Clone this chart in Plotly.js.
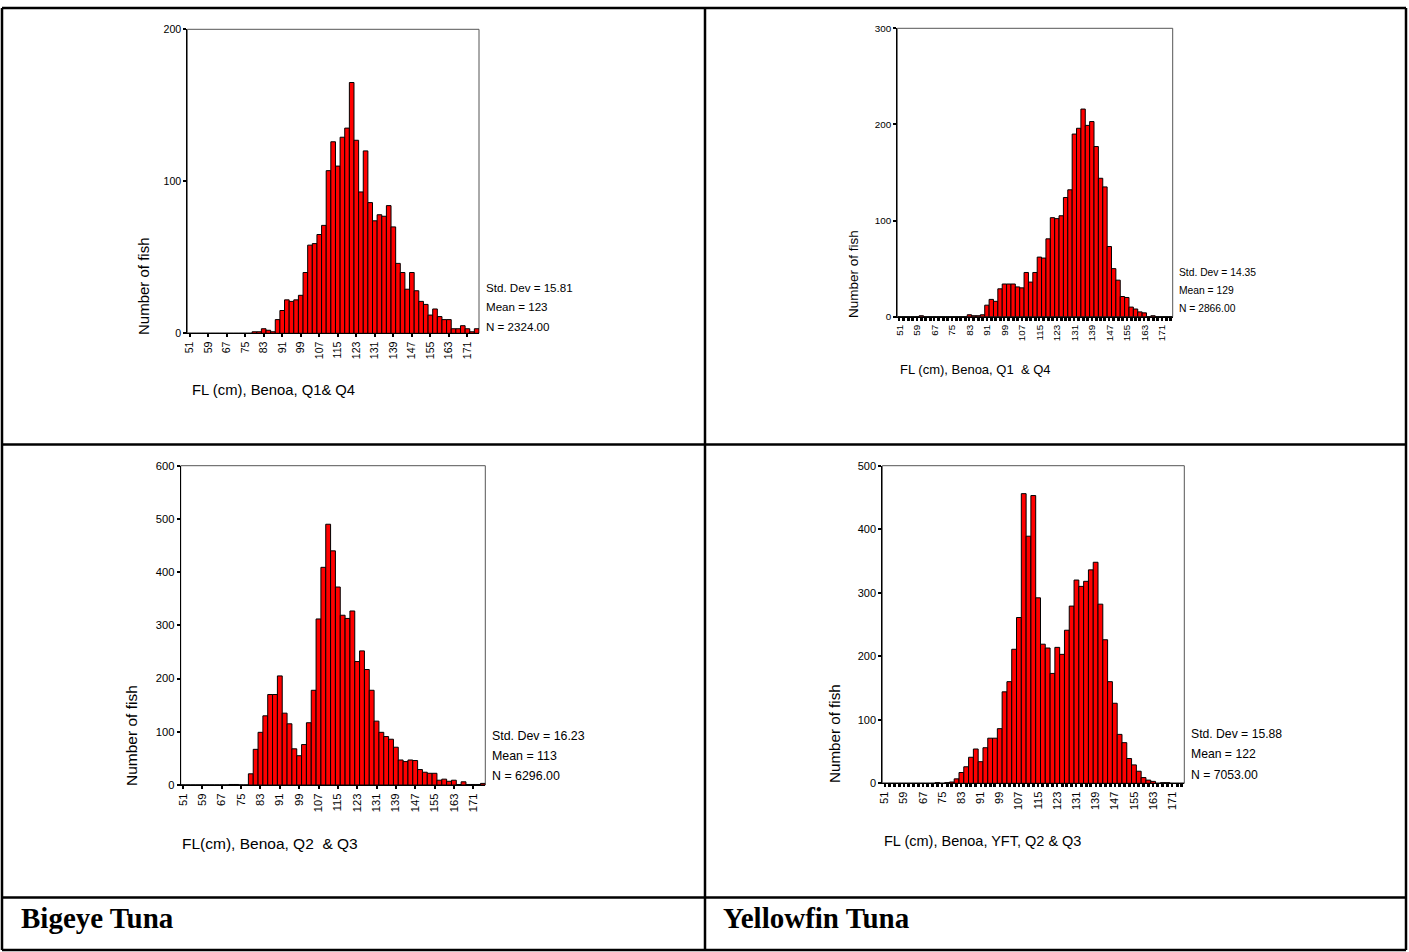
<!DOCTYPE html>
<html>
<head>
<meta charset="utf-8">
<script src="https://cdn.plot.ly/plotly-3.0.1.min.js"></script>
<style>
html,body{margin:0;padding:0;background:#fff;}
#chart{width:1409px;height:952px;}
</style>
</head>
<body>
<div id="chart"></div>
<script>
// Bin centres (fork length, cm), 2 cm bins
const binCentres = [51,53,55,57,59,61,63,65,67,69,71,73,75,77,79,81,83,85,87,89,91,93,95,97,99,101,103,105,107,109,111,113,115,117,119,121,123,125,127,129,131,133,135,137,139,141,143,145,147,149,151,153,155,157,159,161,163,165,167,169,171,173,175];

// Bigeye, Benoa, Q1 & Q4
const betQ1Q4 = [0,0,0,0,0,0,0,0,0,0,0,0,0,0,
  1,1,3,2,1,9,15,22,21,22,25,40,58,59,65,71,107,126,110,129,135,165,127,93,120,86,74,78,77,84,70,46,40,29,40,28,21,19,12,16,11,9,9,3,3,5,3,1,3];
// Yellowfin, Benoa, Q1 & Q4
const yftQ1Q4 = [0,0,0,0,0,1,0,0,0,0,0,0,0,0,0,0,
  2,1,1,2,12,18,16,29,34,34,34,31,30,46,36,46,62,61,81,103,102,105,124,132,190,196,216,199,203,177,144,135,73,50,38,21,20,10,8,5,4,0,1,0,0,0,0];
// Bigeye, Benoa, Q2 & Q3
const betQ2Q3 = [0,0,0,0,0,0,0,0,0,0,1,1,0,0,
  21,67,99,130,170,170,205,135,115,68,55,76,117,178,312,409,490,440,372,319,313,327,232,252,217,178,120,99,91,86,71,47,44,47,46,29,24,22,22,9,11,7,9,1,6,1,1,1,3];
// Yellowfin, Benoa, Q2 & Q3
const yftQ2Q3 = [0,0,0,0,0,0,0,0,0,0,0,1,0,1,
  2,7,17,26,41,54,34,56,71,71,86,144,160,211,261,456,389,453,292,219,213,173,214,203,241,279,320,310,318,336,348,282,226,160,126,77,64,39,29,19,9,5,3,0,1,1,0,0,0];

const xTitles = ["FL (cm), Benoa, Q1& Q4", "FL (cm), Benoa, Q1  & Q4", "FL(cm), Benoa, Q2  & Q3", "FL (cm), Benoa, YFT, Q2 & Q3"];
const yTitle = "Number of fish";
const statsText = [
  ["Std. Dev = 15.81", "Mean = 123", "N = 2324.00"],
  ["Std. Dev = 14.35", "Mean = 129", "N = 2866.00"],
  ["Std. Dev = 16.23", "Mean = 113", "N = 6296.00"],
  ["Std. Dev = 15.88", "Mean = 122", "N = 7053.00"]
];
const yMax = [200, 300, 600, 500];
const speciesLabels = ["Bigeye Tuna", "Yellowfin Tuna"];

const W = 1409, H = 952;
const px = x => x / W;
const py = y => 1 - y / H;
const FONT = "Liberation Sans, Arial, sans-serif";

// panel geometry in pixels
const panels = [
  {x0:187.3, x1:479,    y0:29.3,  y1:333.3, tick:10.6, stat:11.6, ytf:15.0, xtf:14.8, minor:false,
   ytPos:[143,286], xtPos:[190,390], stPos:[484,[287,307,326]]},
  {x0:897.3, x1:1172.7, y0:28.3,  y1:316.7, tick:9.9,  stat:10.3, ytf:13.5, xtf:13.0, minor:true,
   ytPos:[853,274], xtPos:[898,370], stPos:[1177,[272,290,309]]},
  {x0:180.7, x1:485.3,  y0:465.7, y1:785,   tick:11.2, stat:12.4, ytf:15.5, xtf:15.5, minor:false,
   ytPos:[131,736], xtPos:[180,843], stPos:[490,[736,756,776]]},
  {x0:882.3, x1:1184.3, y0:465.7, y1:783.3, tick:11.0, stat:12.2, ytf:15.2, xtf:14.5, minor:true,
   ytPos:[834,733], xtPos:[882,841], stPos:[1189,[734,754,775]]}
];
const series = [betQ1Q4, yftQ1Q4, betQ2Q3, yftQ2Q3];

const data = [];
const layout = {
  width: W, height: H,
  margin: {l:0, r:0, t:0, b:0},
  paper_bgcolor: "#fff", plot_bgcolor: "#fff",
  showlegend: false,
  font: {family: FONT, color: "#000"},
  annotations: [], shapes: []
};

panels.forEach((p, i) => {
  const n = i + 1;
  const xa = "x" + (n === 1 ? "" : n), ya = "y" + (n === 1 ? "" : n);
  data.push({
    type: "bar", x: binCentres, y: series[i], width: 2,
    xaxis: xa, yaxis: ya,
    marker: {color: "#ff0000", line: {color: "#000", width: 1}},
    hoverinfo: "x+y"
  });
  const xKey = "xaxis" + (n === 1 ? "" : n), yKey = "yaxis" + (n === 1 ? "" : n);
  const xaxis = {
    domain: [px(p.x0), px(p.x1)], anchor: ya,
    range: [50, 176], tickmode: "linear", tick0: 51, dtick: 8,
    tickangle: -90, ticks: "outside", ticklen: 3, tickwidth: 2, tickcolor: "#000",
    showline: true, linecolor: "#000", linewidth: 1,
    showgrid: false, zeroline: false,
    tickfont: {family: FONT, size: p.tick, color: "#000"}
  };
  if (p.minor) {
    xaxis.minor = {tick0: 51, dtick: 2, ticks: "outside", ticklen: 3, tickwidth: 2.5, tickcolor: "#000", showgrid: false};
  }
  layout[xKey] = xaxis;
  layout[yKey] = {
    domain: [py(p.y1), py(p.y0)], anchor: xa,
    range: [0, yMax[i]], dtick: 100, tick0: 0,
    ticks: "outside", ticklen: 3, tickwidth: 2, tickcolor: "#000",
    showline: true, linecolor: "#000", linewidth: 1,
    showgrid: false, zeroline: false,
    tickfont: {family: FONT, size: p.tick, color: "#000"}
  };
  // gray frame top/right
  layout.shapes.push({type: "rect", xref: xa + " domain", yref: ya + " domain",
    x0: 0, x1: 1, y0: 0, y1: 1, line: {color: "#555", width: 1}, layer: "below"});
  // y title
  layout.annotations.push({text: yTitle, xref: "paper", yref: "paper",
    x: px(p.ytPos[0]), y: py(p.ytPos[1]), xanchor: "center", yanchor: "middle",
    textangle: -90, showarrow: false, font: {family: FONT, size: p.ytf, color: "#000"}});
  // x title
  layout.annotations.push({text: xTitles[i], xref: "paper", yref: "paper",
    x: px(p.xtPos[0]), y: py(p.xtPos[1]), xanchor: "left", yanchor: "middle",
    showarrow: false, font: {family: FONT, size: p.xtf, color: "#000"}});
  // stats
  statsText[i].forEach((t, j) => {
    layout.annotations.push({text: t, xref: "paper", yref: "paper",
      x: px(p.stPos[0]), y: py(p.stPos[1][j]), xanchor: "left", yanchor: "middle",
      showarrow: false, font: {family: FONT, size: p.stat, color: "#000"}});
  });
});

// species labels
[[19, speciesLabels[0]], [721, speciesLabels[1]]].forEach(([x, t]) => {
  layout.annotations.push({text: "<b>" + t + "</b>", xref: "paper", yref: "paper",
    x: px(x), y: py(918), xanchor: "left", yanchor: "middle", showarrow: false,
    font: {family: "Liberation Serif, Times New Roman, serif", size: 29, color: "#000"}});
});

// table borders
const lineStyle = {color: "#000", width: 2.5};
const hl = (y, x0, x1) => ({type: "line", xref: "paper", yref: "paper", x0: px(x0), x1: px(x1), y0: py(y), y1: py(y), line: lineStyle});
const vl = (x, y0, y1) => ({type: "line", xref: "paper", yref: "paper", x0: px(x), x1: px(x), y0: py(y0), y1: py(y1), line: lineStyle});
layout.shapes.push(hl(8, 2, 1406), hl(444.5, 2, 1406), hl(897.5, 2, 1406), hl(950, 2, 1406),
  vl(2, 8, 950), vl(1406, 8, 950), vl(705, 8, 950));

Plotly.newPlot("chart", data, layout, {displayModeBar: false, responsive: false});
</script>
</body>
</html>
